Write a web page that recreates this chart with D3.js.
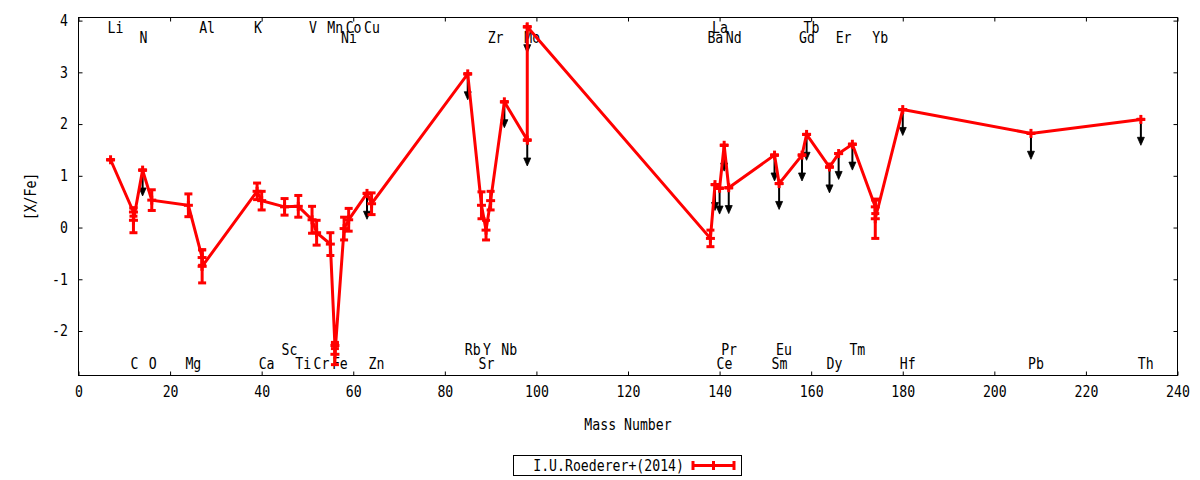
<!DOCTYPE html>
<html>
<head>
<meta charset="utf-8">
<script src="https://cdn.jsdelivr.net/npm/d3@7"></script>
<style>
  html, body { margin: 0; padding: 0; background: #fff; }
  svg { display: block; }
</style>
</head>
<body>
<div id="chart"></div>
<script>
// ---------------- data ----------------
const massNumber = [7, 12, 12, 14, 16, 24, 27, 27, 39, 40, 45, 48, 51, 52, 55, 56, 56, 58, 59, 63, 64,
                    85, 88, 89, 90, 93, 98, 98,
                    138, 139, 140, 141, 142, 152, 153, 158, 159, 164, 166, 169, 174, 174, 180, 208, 232];
const xFe = [1.31, 0.30, 0.14, 1.11, 0.53, 0.43, -0.58, -0.75, 0.70, 0.52, 0.40, 0.41, 0.15, -0.10, -0.32, -2.28, -2.45, -0.02, 0.15, 0.66, 0.46,
             2.97, 0.43, -0.05, 0.52, 2.43, 1.69, 3.88,
             -0.21, 0.83, 0.76, 1.59, 0.77, 1.40, 0.85, 1.40, 1.80, 1.17, 1.43, 1.61, 0.40, 0.17, 2.28, 1.82, 2.09];
const xFeErr = [0, 0.08, 0.24, 0, 0.20, 0.22, 0.15, 0.32, 0.16, 0.18, 0.16, 0.21, 0.26, 0.24, 0.22, 0.06, 0.20, 0.22, 0.22, 0, 0.21,
                0, 0.26, 0.19, 0.18, 0, 0, 0,
                0.16, 0, 0, 0, 0, 0, 0, 0, 0, 0, 0, 0, 0.13, 0.38, 0, 0, 0];
const upperLimit = [0, 0, 0, 1, 0, 0, 0, 0, 0, 0, 0, 0, 0, 0, 0, 0, 0, 0, 0, 1, 0,
                    1, 0, 0, 0, 1, 1, 1,
                    0, 1, 1, 1, 1, 1, 1, 1, 1, 1, 1, 1, 0, 0, 1, 1, 1];
const arrowLength = 0.5;

// element labels: name, mass number, row (0,1 = top rows; 2,3 = bottom rows)
const labelNames = ["Li","Al","K","V","Mn","Co","Cu","La","Tb",
                    "N","Ni","Zr","Mo","Ba","Nd","Gd","Er","Yb",
                    "Sc","Rb","Y","Nb","Pr","Eu","Tm",
                    "C","O","Mg","Ca","Ti","Cr","Fe","Zn","Sr","Ce","Sm","Dy","Hf","Pb","Th"];
const labelMass = [7,27,39,51,55,59,63,139,159,
                   14,58,90,98,138,142,158,166,174,
                   45,85,89,93,141,153,169,
                   12,16,24,40,48,52,56,64,88,140,152,164,180,208,232];
const labelRow = [0,0,0,0,0,0,0,0,0,
                  1,1,1,1,1,1,1,1,1,
                  2,2,2,2,2,2,2,
                  3,3,3,3,3,3,3,3,3,3,3,3,3,3,3];
const labelRowY = [3.86, 3.67, -2.355, -2.625];

const xTicks = [0,20,40,60,80,100,120,140,160,180,200,220,240];
const yTicks = [-2,-1,0,1,2,3,4];
const xTitle = "Mass Number";
const yTitle = "[X/Fe]";
const seriesName = "I.U.Roederer+(2014)";

// ---------------- chart ----------------
const W = 1200, H = 480;
const FONT = "'DejaVu Sans Mono', 'Liberation Mono', monospace";
const FS = 15, SX = 0.88;
const RED = "#ff0000";

const svg = d3.select("#chart").append("svg").attr("width", W).attr("height", H);

const x = d3.scaleLinear().domain([0, 240]).range([78.5, 1177.5]);
const y = d3.scaleLinear().domain([-2.86, 4.06]).range([375.5, 17.5]);

function txt(g, px, py, s, anchor, rotate) {
  return g.append("text")
    .attr("transform", `translate(${px},${py})` + (rotate ? ` rotate(${rotate})` : "") + ` scale(${SX},1)`)
    .attr("text-anchor", anchor || "start")
    .attr("dominant-baseline", "central")
    .attr("font-family", FONT).attr("font-size", FS).attr("fill", "#000")
    .text(s);
}

// axes
const gx = svg.append("g").attr("transform", `translate(0,${y.range()[0]})`)
  .call(d3.axisBottom(x).tickValues(xTicks).tickSizeInner(-4).tickSizeOuter(0).tickPadding(12).tickFormat(d => String(d)));
gx.select(".domain").remove();
gx.attr("font-family", FONT).attr("font-size", FS);
gx.selectAll("text").attr("transform", `scale(${SX},1)`).attr("fill", "#000").attr("dy", "0.62em");

const gy = svg.append("g").attr("transform", `translate(${x.range()[0]},0)`)
  .call(d3.axisLeft(y).tickValues(yTicks).tickSizeInner(-4).tickSizeOuter(0).tickPadding(10).tickFormat(d => String(d)));
gy.select(".domain").remove();
gy.attr("font-family", FONT).attr("font-size", FS);
gy.selectAll("text").attr("transform", `scale(${SX},1)`).attr("fill", "#000").attr("x", -10.5 / SX);

const gt = svg.append("g").attr("transform", `translate(0,${y.range()[1]})`)
  .call(d3.axisTop(x).tickValues(xTicks).tickSizeInner(-4).tickSizeOuter(0).tickFormat(""));
gt.select(".domain").remove();
const gr = svg.append("g").attr("transform", `translate(${x.range()[1]},0)`)
  .call(d3.axisRight(y).tickValues(yTicks).tickSizeInner(-4).tickSizeOuter(0).tickFormat(""));
gr.select(".domain").remove();

svg.append("rect")
  .attr("x", x.range()[0]).attr("y", y.range()[1])
  .attr("width", x.range()[1] - x.range()[0]).attr("height", y.range()[0] - y.range()[1])
  .attr("fill", "none").attr("stroke", "#000").attr("stroke-width", 1);

// axis titles
txt(svg, (x.range()[0] + x.range()[1]) / 2, 424.5, xTitle, "middle");
txt(svg, 31, (y.range()[0] + y.range()[1]) / 2, yTitle, "middle", -90);

// element labels (under data)
const gLab = svg.append("g");
labelNames.forEach((n, i) => {
  txt(gLab, x(labelMass[i]) - 3, y(labelRowY[labelRow[i]]), n, "start");
});

// data
const pts = massNumber.map((m, i) => ({ m, v: xFe[i], e: xFeErr[i], ul: upperLimit[i] }));

// upper-limit arrows (black, below red marks)
const gArr = svg.append("g");
pts.filter(p => p.ul).forEach(p => {
  const px = x(p.m), y0 = y(p.v), y1 = y(p.v - arrowLength);
  gArr.append("line").attr("x1", px).attr("x2", px).attr("y1", y0).attr("y2", y1 - 6)
    .attr("stroke", "#000").attr("stroke-width", 2);
  gArr.append("path")
    .attr("d", `M${px},${y1} L${px - 3.5},${y1 - 8} L${px + 3.5},${y1 - 8} Z`)
    .attr("fill", "#000").attr("stroke", "#000").attr("stroke-width", 0.8);
});

// connecting line
const line = d3.line().x(p => x(p.m)).y(p => y(p.v));
svg.append("path").datum(pts).attr("d", line)
  .attr("fill", "none").attr("stroke", RED).attr("stroke-width", 3).attr("stroke-linejoin", "miter");

// error bars + markers
const gE = svg.append("g").attr("stroke", RED).attr("stroke-width", 3).attr("fill", "none");
const CAP = 4, MK = 4.5;
pts.forEach(p => {
  const px = x(p.m), py = y(p.v), yt = y(p.v + p.e), yb = y(p.v - p.e);
  gE.append("line").attr("x1", px).attr("x2", px).attr("y1", yt).attr("y2", yb);
  gE.append("line").attr("x1", px - CAP).attr("x2", px + CAP).attr("y1", yt).attr("y2", yt);
  gE.append("line").attr("x1", px - CAP).attr("x2", px + CAP).attr("y1", yb).attr("y2", yb);
  gE.append("line").attr("x1", px - MK).attr("x2", px + MK).attr("y1", py).attr("y2", py);
  gE.append("line").attr("x1", px).attr("x2", px).attr("y1", py - MK).attr("y2", py + MK);
});

// legend
const lg = svg.append("g");
lg.append("rect").attr("x", 513.5).attr("y", 455.5).attr("width", 228).attr("height", 20)
  .attr("fill", "none").attr("stroke", "#000").attr("stroke-width", 1);
txt(lg, 684, 465.5, seriesName, "end");
const lgs = lg.append("g").attr("stroke", RED).attr("stroke-width", 3);
lgs.append("line").attr("x1", 693).attr("x2", 734).attr("y1", 465.5).attr("y2", 465.5);
lgs.append("line").attr("x1", 693).attr("x2", 693).attr("y1", 461).attr("y2", 470);
lgs.append("line").attr("x1", 734).attr("x2", 734).attr("y1", 461).attr("y2", 470);
lgs.append("line").attr("x1", 713.5).attr("x2", 713.5).attr("y1", 461).attr("y2", 470);
</script>
</body>
</html>
